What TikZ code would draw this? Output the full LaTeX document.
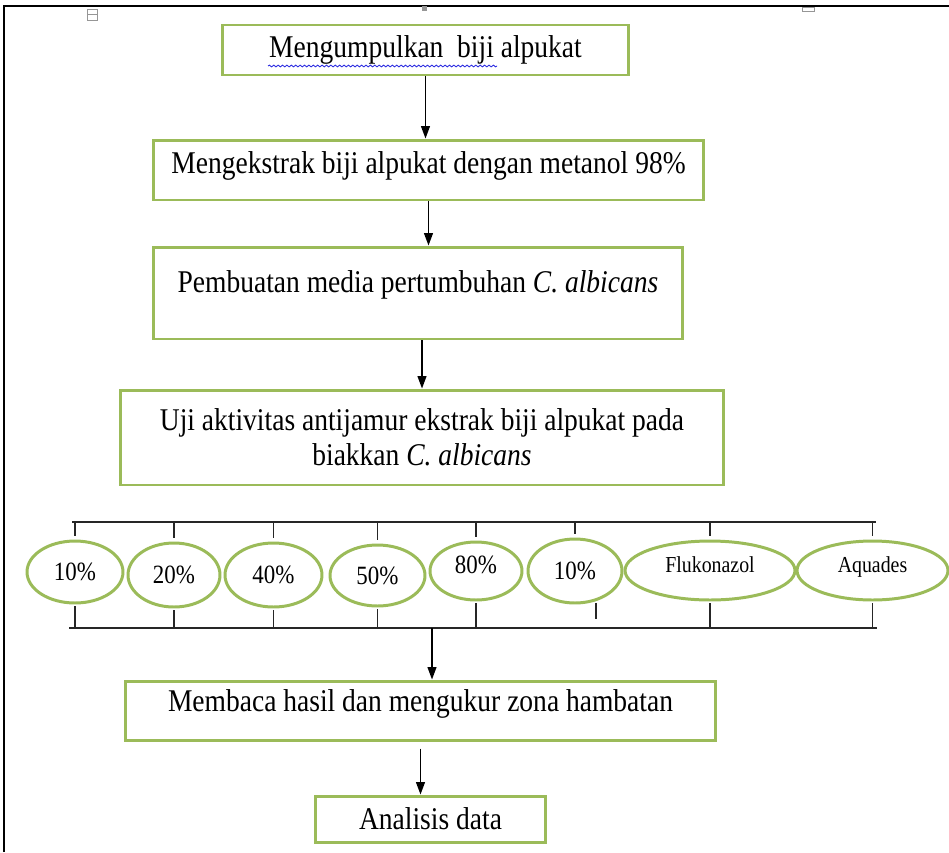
\documentclass[tikz,border=0pt]{standalone}
\usepackage{fontspec}
\setmainfont{Liberation Serif}[FakeStretch=0.87]
\usetikzlibrary{arrows.meta, shapes.geometric, calc, decorations.pathmorphing}
\definecolor{boxgreen}{RGB}{155,187,89}
\definecolor{markgray}{RGB}{150,150,150}
\definecolor{wavyblue}{RGB}{45,45,225}
\tikzset{
  stepbox/.style={draw=boxgreen, line width=1.7pt, fill=white, inner sep=2pt,
    align=center, font=\fontsize{18}{20}\selectfont},
  dose/.style={ellipse, draw=boxgreen, line width=1.7pt, fill=white, inner sep=0pt,
    font=\fontsize{15}{17}\selectfont},
  control/.style={dose, font=\fontsize{13}{15}\selectfont},
  flow/.style={-{Triangle[length=7pt, width=5pt]}, line width=0.8pt},
  bracket/.style={line width=0.8pt, black!85}
}

\begin{document}
\begin{tikzpicture}[
    x=0.02cm, y=-0.02cm
  ]

  % --- canvas ------------------------------------------------------------
  \fill[white] (0,0) rectangle (949,852);
  \useasboundingbox (0,0) rectangle (949,852);
  \draw[line width=1.1pt] (4,852) -- (4,6) -- (949,6);
  \draw[markgray, line width=0.5pt] (87,9) rectangle (97,20);
  \draw[markgray, line width=0.5pt] (87,14.5) -- (97,14.5);
  \fill[markgray] (422,6) rectangle (427,11);
  \draw[markgray, line width=0.5pt] (802,7) rectangle (814,11);

  % --- steps -------------------------------------------------------------
  \node[stepbox, minimum width=8.14cm, minimum height=1cm] (collect) at (425.5,50)
    {Mengumpulkan\ \ biji alpukat};
  \node[stepbox, minimum width=11.02cm, minimum height=1.2cm, text depth=8pt] (extract) at (428.5,170)
    {Mengekstrak biji alpukat dengan metanol 98\%};
  \node[stepbox, minimum width=10.6cm, minimum height=1.84cm, text depth=13pt] (medium) at (418,293)
    {Pembuatan media pertumbuhan \textit{C. albicans}};
  \node[stepbox, minimum width=12.08cm, minimum height=1.9cm] (assay) at (422,437.5)
    {Uji aktivitas antijamur ekstrak biji alpukat pada\\ biakkan \textit{C. albicans}};
  \node[stepbox, minimum width=11.82cm, minimum height=1.18cm, text depth=11pt] (measure) at (420.5,710.5)
    {Membaca hasil dan mengukur zona hambatan};
  \node[stepbox, minimum width=4.62cm, minimum height=0.92cm] (analyse) at (430.5,819)
    {Analisis data};

  % spell-check underline under the first words
  \draw[wavyblue, line width=0.5pt, decorate,
    decoration={snake, amplitude=0.5pt, segment length=2.5pt}] (268,66) -- (497,66);

  % --- concentrations and controls -----------------------------------------
  \node[dose, minimum width=1.92cm, minimum height=1.24cm] (c1) at (75,572) {10\%};
  \node[dose, minimum width=1.84cm, minimum height=1.28cm] (c2) at (174,575) {20\%};
  \node[dose, minimum width=1.94cm, minimum height=1.28cm] (c3) at (273.5,575) {40\%};
  \node[dose, minimum width=1.9cm, minimum height=1.22cm] (c4) at (377.5,575.5) {50\%};
  \node[dose, minimum width=1.84cm, minimum height=1.16cm, text depth=7pt] (c5) at (476,571) {80\%};
  \node[dose, minimum width=1.88cm, minimum height=1.28cm] (c6) at (575,571) {10\%};
  \node[control, minimum width=3.4cm, minimum height=1.18cm, text depth=7pt] (c7) at (710,570.5) {Flukonazol};
  \node[control, minimum width=3.02cm, minimum height=1.18cm, text depth=7pt] (c8) at (872.5,570.5) {Aquades};

  % --- brackets above and below the row ------------------------------------
  \coordinate (topL) at (72,522);
  \coordinate (topR) at (876,522);
  \coordinate (botL) at (69,628);
  \coordinate (botR) at (877,628);
  \coordinate (join) at (432,628);
  \draw[bracket] (topL) -- (topR);
  \draw[bracket] (botL) -- (botR);
  \foreach \c in {c1,c2,c3,c4,c5,c6,c7,c8}
    \draw[bracket] (\c.north |- topL) -- ([yshift=2pt]\c.north);
  \foreach \c in {c1,c2,c3,c4,c5,c7,c8}
    \draw[bracket] ([yshift=-1pt]\c.south) -- (\c.south |- botL);
  \draw[bracket] ([yshift=-1pt]c6.-55) -- ([yshift=5pt]c6.-55 |- botL);

  % --- flow arrows -------------------------------------------------------
  \draw[flow] (collect.south) -- (collect.south |- extract.north);
  \draw[flow] (extract.south) -- (extract.south |- medium.north);
  \draw[flow] (assay.north |- medium.south) -- (assay.north);
  \draw[flow] (join) -- (join |- measure.north);
  \draw[flow] ([yshift=-4pt]measure.south) -- (measure.south |- analyse.north);

\end{tikzpicture}
\end{document}
